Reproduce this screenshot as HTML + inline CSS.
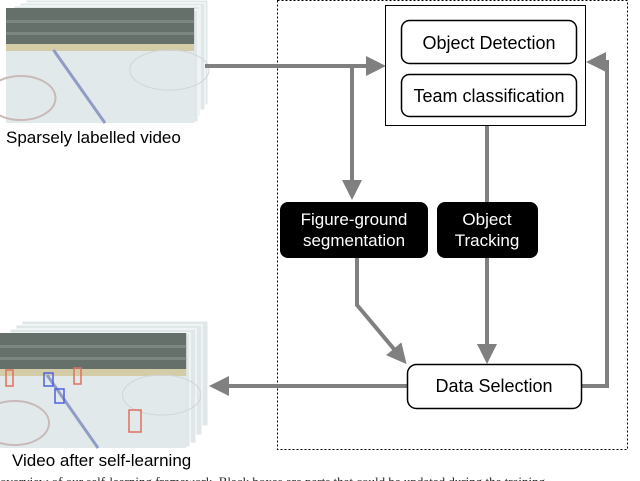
<!DOCTYPE html>
<html><head><style>body{margin:0;background:#fff}svg{display:block}</style></head><body>
<svg width="640" height="481" viewBox="0 0 640 481" xmlns="http://www.w3.org/2000/svg" font-family="Liberation Sans, sans-serif">
<defs>
<marker id="a" viewBox="0 0 10 10" refX="8" refY="5" markerWidth="5" markerHeight="5" orient="auto"><path d="M0,0L10,5L0,10z" fill="#808080"/></marker>
<g id="frame">
<rect x="0" y="0" width="190" height="115" fill="#e2e9ea"/>
<rect x="0" y="0" width="190" height="36" fill="#66706a"/>
<rect x="0" y="12" width="190" height="3" fill="#7d8580"/>
<rect x="0" y="24" width="190" height="3" fill="#7d8580"/>
<rect x="0" y="36" width="190" height="7" fill="#d4cca6"/>
<line x1="48" y1="42" x2="100" y2="115" stroke="#8f9cc4" stroke-width="3"/>
<ellipse cx="165" cy="62" rx="40" ry="20" fill="none" stroke="#d0d5d8"/>
<ellipse cx="15" cy="90" rx="35" ry="22" fill="none" stroke="#c9b9b9" stroke-width="2"/>
</g>
</defs>
<g fill="#dfe7e8" stroke="#fff" stroke-width="1">
<rect x="26" y="0" width="182" height="105"/><rect x="20" y="3" width="185" height="107"/><rect x="14" y="6" width="186" height="110"/><rect x="10" y="10" width="188" height="112"/>
</g>
<use href="#frame" transform="translate(6,8) scale(0.99,1)"/>
<text x="6" y="143" font-size="17">Sparsely labelled video</text>
<g fill="#dfe7e8" stroke="#fff">
<rect x="22" y="321" width="186" height="105"/><rect x="16" y="325" width="186" height="110"/><rect x="10" y="329" width="186" height="114"/><rect x="4" y="333" width="186" height="114"/>
</g>
<use href="#frame" transform="translate(0,333) scale(0.98,1)"/>
<g fill="none" stroke-width="1.5">
<rect x="6" y="370" width="7" height="16" stroke="#e07060"/><rect x="74" y="368" width="7" height="16" stroke="#e07060"/>
<rect x="44" y="373" width="9" height="13" stroke="#5060e0"/><rect x="55" y="389" width="9" height="14" stroke="#5060e0"/>
<rect x="129" y="410" width="12" height="22" stroke="#e07060"/>
</g>
<text x="12" y="466" font-size="17">Video after self-learning</text>
<rect x="277.5" y="0.5" width="350" height="449" fill="none" stroke="#000" stroke-dasharray="2,2"/>
<g stroke="#808080" stroke-width="4" fill="none">
<line x1="205" y1="66" x2="382" y2="66" marker-end="url(#a)"/>
<line x1="352" y1="66" x2="352" y2="196" marker-end="url(#a)"/>
<line x1="487" y1="125" x2="487" y2="360" marker-end="url(#a)"/>
<polyline points="357,258 357,305 404,361" marker-end="url(#a)"/>
<polyline points="581,386 607,386 607,62 590,62" marker-end="url(#a)"/>
<line x1="407" y1="386" x2="213" y2="386" marker-end="url(#a)"/>
</g>
<rect x="385.5" y="5.5" width="200" height="120" fill="#fff" stroke="#000"/>
<rect x="401.5" y="20.5" width="175" height="43" rx="8" fill="#fff" stroke="#000" stroke-width="1.5"/>
<text x="489" y="49" font-size="18" text-anchor="middle">Object Detection</text>
<rect x="401.5" y="74.5" width="175" height="42" rx="8" fill="#fff" stroke="#000" stroke-width="1.5"/>
<text x="489" y="102" font-size="18" text-anchor="middle">Team classification</text>
<rect x="280" y="202" width="148" height="56" rx="8" fill="#000"/>
<text x="354" y="225" font-size="17" fill="#fff" text-anchor="middle">Figure-ground</text>
<text x="354" y="246" font-size="17" fill="#fff" text-anchor="middle">segmentation</text>
<rect x="437" y="202" width="101" height="56" rx="8" fill="#000"/>
<text x="487" y="225" font-size="17" fill="#fff" text-anchor="middle">Object</text>
<text x="487" y="246" font-size="17" fill="#fff" text-anchor="middle">Tracking</text>
<rect x="407.5" y="364.5" width="174" height="44" rx="9" fill="#fff" stroke="#000" stroke-width="1.5"/>
<text x="494" y="392" font-size="18" text-anchor="middle">Data Selection</text>
<text x="0" y="486" font-size="13" font-family="Liberation Serif, serif" fill="#222">overview of our self-learning framework. Black boxes are parts that could be updated during the training</text>
</svg>
</body></html>
